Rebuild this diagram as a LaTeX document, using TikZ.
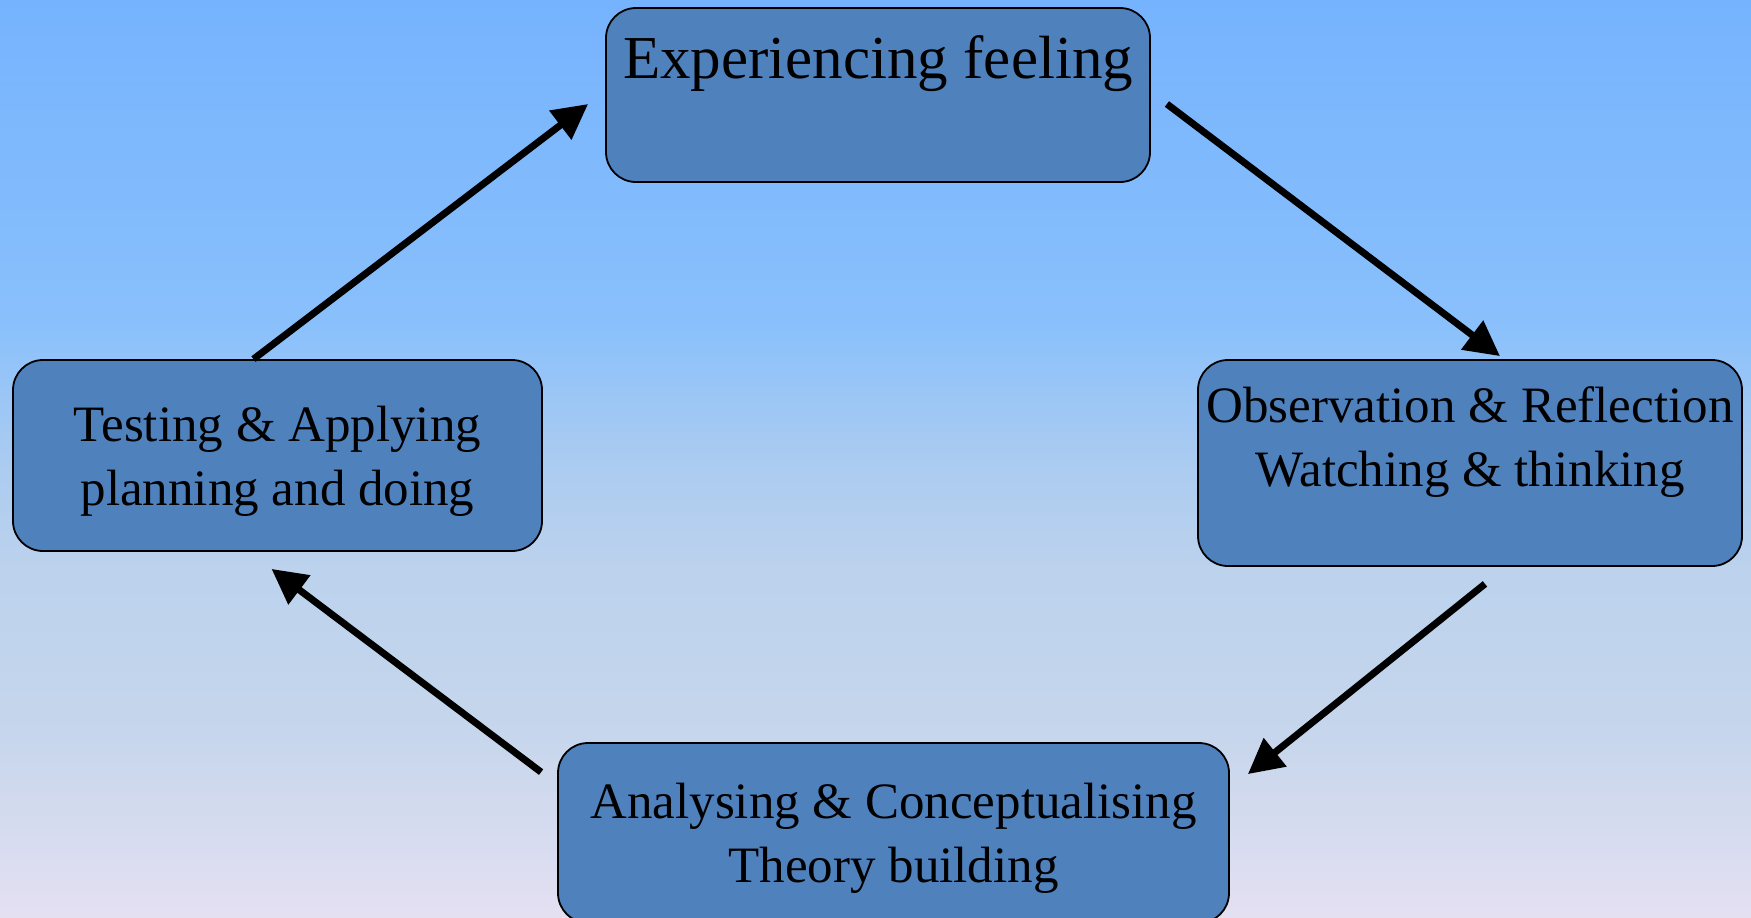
\documentclass[tikz,border=0pt]{standalone}
\usepackage{fontspec}
\setmainfont{Liberation Serif}
\usetikzlibrary{arrows.meta,calc,positioning}
\definecolor{boxblue}{HTML}{4F81BD}
\definecolor{skytop}{RGB}{118,179,254}
\definecolor{skyhigh}{RGB}{137,192,252}
\definecolor{skymid}{RGB}{170,203,241}
\definecolor{skymidlow}{RGB}{188,210,237}
\definecolor{skylow}{RGB}{198,214,236}
\definecolor{skybot}{RGB}{228,224,242}
\pgfdeclareverticalshading{skyfade}{100bp}{color(0bp)=(skybot); color(25bp)=(skybot); color(35bp)=(skylow); color(44bp)=(skymidlow); color(50bp)=(skymid); color(57.5bp)=(skyhigh); color(75bp)=(skytop); color(100bp)=(skytop)}
\tikzset{
    stage/.style={rectangle, rounded corners=15pt, draw=black, line width=0.9pt,
        fill=boxblue, align=center, inner sep=0pt, text depth=0pt,
        font=\fontsize{25.5}{32}\selectfont},
    flow/.style={-{Triangle[length=17.5pt,width=17.5pt]}, line width=3.5pt}
}
\begin{document}
\begin{tikzpicture}[x=0.5pt, y=-0.5pt]

    % Background
    \useasboundingbox (0,0) rectangle (1751,917);
    \shade[shading=skyfade] (0,0) rectangle (1751,917);

    % Nodes
    \node[stage, font=\fontsize{30.5}{38}\selectfont, minimum width=272pt, minimum height=87pt] (feel) at (878,95) {Experiencing feeling\\\mbox{}};
    \node[stage, minimum width=272pt, minimum height=103pt] (observe) at (1470,463) {Observation \& Reflection\\Watching \& thinking\\[-5.6pt]\mbox{}};
    \node[stage, minimum width=335.5pt, minimum height=90pt] (analyse) at (893.5,833) {Analysing \& Conceptualising\\Theory building};
    \node[stage, minimum width=264.5pt, minimum height=95.5pt] (testing) at (277.5,455.5) {Testing \& Applying\\planning and doing};

    % Edges with arrows
    \draw[flow] ($(testing.north)+(-24,0)$) -- ($(feel.west)+(-17,9)$);
    \draw[flow] ($(feel.east)+(16,9)$) -- ($(observe.north)+(30,-3)$);
    \draw[flow] ($(observe.south)+(15,17)$) -- ($(analyse.north east)+(18,32)$);
    \draw[flow] ($(analyse.north west)+(-16,30)$) -- ($(testing.south)+(-6,17)$);

\end{tikzpicture}
\end{document}
